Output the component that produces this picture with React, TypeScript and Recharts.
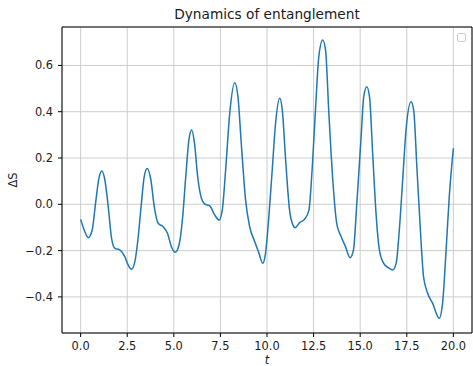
import { CartesianGrid, Line, LineChart, ReferenceArea, XAxis, YAxis } from "recharts";

// time samples and entropy change
const tValues = [
  0.0, 0.19, 0.41, 0.62, 0.8, 0.98, 1.14, 1.3, 1.48, 1.66, 1.84, 2.1, 2.37, 2.55, 2.73, 2.91,
  3.09, 3.26, 3.41, 3.57, 3.77, 3.95, 4.16, 4.43, 4.66, 4.87, 5.08, 5.28, 5.46, 5.64, 5.82,
  5.96, 6.11, 6.28, 6.48, 6.66, 6.93, 7.19, 7.43, 7.6, 7.78, 8.0, 8.27, 8.44, 8.62, 8.85, 9.07,
  9.34, 9.57, 9.77, 9.92, 10.1, 10.28, 10.46, 10.68, 10.82, 11.0, 11.21, 11.39, 11.51, 11.75,
  12.01, 12.25, 12.42, 12.6, 12.78, 12.99, 13.14, 13.32, 13.53, 13.74, 13.98, 14.21, 14.46,
  14.64, 14.82, 15.05, 15.19, 15.35, 15.5, 15.67, 15.85, 16.03, 16.26, 16.51, 16.74, 16.93,
  17.1, 17.28, 17.46, 17.73, 17.87, 18.05, 18.23, 18.4, 18.62, 18.89, 19.24, 19.42, 19.6,
  19.78, 20.0,
];

const deltaS = [
  -0.065, -0.111, -0.144, -0.111, 0.004, 0.112, 0.144, 0.105, -0.01, -0.147, -0.19, -0.197,
  -0.226, -0.262, -0.281, -0.248, -0.14, 0.004, 0.119, 0.155, 0.105, -0.01, -0.082, -0.097,
  -0.125, -0.183, -0.207, -0.176, -0.068, 0.119, 0.285, 0.321, 0.263, 0.119, 0.026, 0.001,
  -0.007, -0.046, -0.068, -0.025, 0.148, 0.393, 0.525, 0.465, 0.263, 0.019, -0.097, -0.161,
  -0.212, -0.255, -0.212, -0.053, 0.148, 0.35, 0.458, 0.407, 0.191, -0.025, -0.089, -0.101,
  -0.079, -0.065, -0.025, 0.148, 0.407, 0.638, 0.71, 0.667, 0.393, 0.105, -0.082, -0.14,
  -0.183, -0.231, -0.197, 0.004, 0.292, 0.465, 0.508, 0.465, 0.22, -0.039, -0.197, -0.255,
  -0.274, -0.284, -0.255, -0.111, 0.105, 0.321, 0.443, 0.407, 0.148, -0.111, -0.313, -0.384,
  -0.428, -0.492, -0.428, -0.212, 0.033, 0.242,
];

const xTicks = [0, 2.5, 5, 7.5, 10, 12.5, 15, 17.5, 20];
const yTicks = [-0.4, -0.2, 0, 0.2, 0.4, 0.6];

const X_DOMAIN: [number, number] = [-1, 21];
const Y_DOMAIN: [number, number] = [-0.556, 0.766];

const FONT = "'DejaVu Sans', sans-serif";
const TICK_SIZE = 11.4;
const TEXT = "#1a1a1a";

const data = tValues.map((t, i) => ({ t, s: deltaS[i] }));

const fmt = (v: number) => v.toFixed(1).replace("-", "\u2212");

export default function App() {
  return (
    <div style={{ position: "absolute", left: 0, top: 0, width: 473, height: 366, background: "#fff" }}>
      <div
        style={{
          position: "absolute",
          left: 62,
          width: 410,
          top: 6,
          textAlign: "center",
          fontFamily: FONT,
          fontSize: 13.7,
          lineHeight: "16px",
          color: TEXT,
        }}
      >
        Dynamics of entanglement
      </div>

      <LineChart width={473} height={366} data={data} margin={{ top: 27, right: 1, bottom: 0, left: 0 }}>
        <CartesianGrid stroke="#cccccc" strokeWidth={1} />
        <XAxis
          dataKey="t"
          type="number"
          domain={X_DOMAIN}
          ticks={xTicks}
          allowDataOverflow
          tickFormatter={fmt}
          height={33}
          tickSize={4}
          tickMargin={5}
          axisLine={false}
          tickLine={{ stroke: "#000" }}
          tick={{ fill: TEXT, fontSize: TICK_SIZE, fontFamily: FONT }}
          label={{
            content: ({ viewBox }: any) => (
              <text
                x={viewBox.x + viewBox.width / 2}
                y={viewBox.y + 31}
                textAnchor="middle"
                fontFamily={FONT}
                fontSize={TICK_SIZE}
                fontStyle="italic"
                fill={TEXT}
              >
                t
              </text>
            ),
          }}
        />
        <YAxis
          type="number"
          domain={Y_DOMAIN}
          ticks={yTicks}
          allowDataOverflow
          tickFormatter={fmt}
          width={62}
          tickSize={4}
          tickMargin={5}
          axisLine={false}
          tickLine={{ stroke: "#000" }}
          tick={{ fill: TEXT, fontSize: TICK_SIZE, fontFamily: FONT }}
          label={{
            content: ({ viewBox }: any) => {
              const cx = viewBox.x + 17.3;
              const cy = viewBox.y + viewBox.height / 2;
              return (
                <text
                  x={cx}
                  y={cy}
                  transform={`rotate(-90 ${cx} ${cy})`}
                  textAnchor="middle"
                  fontFamily={FONT}
                  fontSize={TICK_SIZE}
                  fill={TEXT}
                >
                  ΔS
                </text>
              );
            },
          }}
        />
        <Line
          dataKey="s"
          type="monotone"
          stroke="#1f77b4"
          strokeWidth={1.5}
          dot={false}
          activeDot={false}
          isAnimationActive={false}
        />
        {/* axes frame, like matplotlib spines */}
        <ReferenceArea
          x1={X_DOMAIN[0]}
          x2={X_DOMAIN[1]}
          y1={Y_DOMAIN[0]}
          y2={Y_DOMAIN[1]}
          fill="none"
          stroke="#000"
          strokeWidth={1}
          ifOverflow="visible"
        />
      </LineChart>

      {/* empty legend box */}
      <div
        style={{
          position: "absolute",
          left: 457,
          top: 33,
          width: 7,
          height: 7,
          border: "1px solid #cccccc",
          borderRadius: 2,
        }}
      />
    </div>
  );
}
